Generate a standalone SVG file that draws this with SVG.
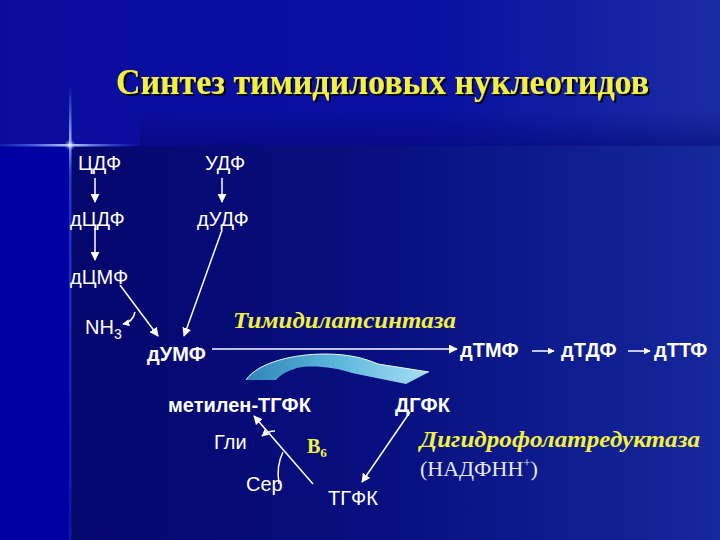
<svg xmlns="http://www.w3.org/2000/svg" width="720" height="540" viewBox="0 0 720 540">
<defs>
<linearGradient id="bgTop" x1="0" y1="0" x2="1" y2="0">
<stop offset="0" stop-color="#0a0c9c"/><stop offset="0.6" stop-color="#0a10a0"/><stop offset="1" stop-color="#1a2ca4"/>
</linearGradient>
<linearGradient id="bgLow" x1="0" y1="0" x2="1" y2="0">
<stop offset="0" stop-color="#04066c"/><stop offset="0.5" stop-color="#081080"/><stop offset="1" stop-color="#15289c"/>
</linearGradient>
<linearGradient id="bgFade" x1="0" y1="0" x2="0" y2="1">
<stop offset="0" stop-color="#04066c" stop-opacity="0"/><stop offset="1" stop-color="#04066c" stop-opacity="0.5"/>
</linearGradient>
<linearGradient id="vline" x1="0" y1="0" x2="0" y2="1">
<stop offset="0" stop-color="#6fa0ff" stop-opacity="0"/><stop offset="0.12" stop-color="#9fc0ff" stop-opacity="0.9"/><stop offset="0.2" stop-color="#3060ff" stop-opacity="0.6"/><stop offset="1" stop-color="#2040e0" stop-opacity="0.35"/>
</linearGradient>
<linearGradient id="hline" x1="0" y1="0" x2="1" y2="0">
<stop offset="0" stop-color="#3060ff" stop-opacity="0.2"/><stop offset="0.5" stop-color="#c0d8ff" stop-opacity="1"/><stop offset="1" stop-color="#3060ff" stop-opacity="0"/>
</linearGradient>
<linearGradient id="curveFill" x1="0" y1="0" x2="1" y2="0">
<stop offset="0" stop-color="#2f86b8"/><stop offset="0.5" stop-color="#5cb6dc"/><stop offset="1" stop-color="#a6e0f4"/>
</linearGradient>
<radialGradient id="star" cx="0.5" cy="0.5" r="0.5">
<stop offset="0" stop-color="#ffffff" stop-opacity="1"/><stop offset="1" stop-color="#6080ff" stop-opacity="0"/>
</radialGradient>
<filter id="shadow" x="-5%" y="-20%" width="110%" height="150%">
<feDropShadow dx="2" dy="2" stdDeviation="0.6" flood-color="#000000" flood-opacity="0.9"/>
</filter>
<marker id="ah" viewBox="0 0 10 10" refX="9" refY="5" markerWidth="9" markerHeight="9" markerUnits="userSpaceOnUse" orient="auto">
<path d="M0,0 L10,5 L0,10 Z" fill="#ffffff"/>
</marker>
<marker id="ahs" viewBox="0 0 10 10" refX="9" refY="5" markerWidth="7" markerHeight="7" markerUnits="userSpaceOnUse" orient="auto">
<path d="M0,0 L10,5 L0,10 Z" fill="#ffffff"/>
</marker>
</defs>
<style>
.n{font-family:"Liberation Sans",Arial,sans-serif;font-size:20px;fill:#ffffff}
.b{font-weight:bold}
.y{font-family:"Liberation Serif","Times New Roman",serif;fill:#f4f040;font-weight:bold}
.it{font-style:italic}
.ln{stroke:#ffffff;stroke-width:1.5;fill:none}
</style>

<!-- background -->
<rect x="0" y="0" width="720" height="540" fill="url(#bgTop)"/>
<rect x="70" y="146" width="650" height="394" fill="url(#bgLow)"/>
<rect x="0" y="146" width="70" height="394" fill="#0000a2"/>
<rect x="140" y="110" width="580" height="36" fill="url(#bgFade)"/>
<rect x="69" y="85" width="2.5" height="455" fill="url(#vline)"/>
<rect x="0" y="144" width="140" height="2.5" fill="url(#hline)"/>
<ellipse cx="70" cy="145" rx="6" ry="6" fill="url(#star)"/>

<!-- title -->
<text x="116" y="94" font-family="Liberation Serif,'Times New Roman',serif" font-size="35" font-weight="bold" fill="#f4f040" textLength="533" lengthAdjust="spacingAndGlyphs" filter="url(#shadow)">Синтез тимидиловых нуклеотидов</text>

<!-- connectors -->
<g id="connectors">
<line class="ln" x1="95" y1="178" x2="95" y2="202" marker-end="url(#ah)"/>
<line class="ln" x1="222" y1="178" x2="222" y2="202" marker-end="url(#ah)"/>
<line class="ln" x1="95" y1="228" x2="95" y2="260" marker-end="url(#ah)"/>
<line class="ln" x1="222" y1="230" x2="184" y2="336" marker-end="url(#ah)"/>
<line class="ln" x1="120" y1="285" x2="158" y2="336" marker-end="url(#ah)"/>
<path class="ln" d="M135,312 Q133,322 123,324" marker-end="url(#ahs)"/>
<line class="ln" x1="212" y1="349" x2="457" y2="349" marker-end="url(#ah)"/>
<line class="ln" x1="532" y1="351" x2="554" y2="351" marker-end="url(#ahs)"/>
<line class="ln" x1="628" y1="351" x2="650" y2="351" marker-end="url(#ahs)"/>
<line class="ln" x1="313" y1="484" x2="254" y2="416" marker-end="url(#ah)"/>
<path class="ln" d="M275,431 Q268,431 262,436" marker-end="url(#ahs)"/>
<path class="ln" d="M283,452 Q276,466 279,484"/>
<line class="ln" x1="410" y1="412" x2="362" y2="482" marker-end="url(#ah)"/>
<path d="M246,380 C258,362 295,354 325,354 C348,354 364,358 378,364 L429,372 L406,384 L352,373 C334,367 312,365 297,368 C287,371 280,375 276,380 Z" fill="url(#curveFill)"/>
<path d="M246,380 C258,362 295,354 325,354 C348,354 364,358 378,364 L429,372" fill="none" stroke="#e8f8ff" stroke-width="1"/>
</g>

<!-- nodes -->
<g id="CDP"><text class="n" x="78" y="170">ЦДФ</text></g>
<g id="UDP"><text class="n" x="205" y="170">УДФ</text></g>
<g id="dCDP"><text class="n" x="70" y="226">дЦДФ</text></g>
<g id="dUDP"><text class="n" x="197" y="226">дУДФ</text></g>
<g id="dCMP"><text class="n" x="70" y="284">дЦМФ</text></g>
<g id="NH3"><text class="n" x="85" y="334">NH<tspan font-size="14" dy="5">3</tspan></text></g>
<g id="dUMP"><text class="n b" x="147" y="361">дУМФ</text></g>
<g id="enzyme1"><text class="y it" x="233" y="328" font-size="24" textLength="223" lengthAdjust="spacingAndGlyphs">Тимидилатсинтаза</text></g>
<g id="dTMP"><text class="n b" x="460" y="357">дТМФ</text></g>
<g id="dTDP"><text class="n b" x="561" y="357">дТДФ</text></g>
<g id="dTTP"><text class="n b" x="654" y="357">дТТФ</text></g>
<g id="methyleneTHF"><text class="n b" x="168" y="412" font-size="19">метилен-ТГФК</text></g>
<g id="DHF"><text class="n b" x="395" y="412" font-size="19">ДГФК</text></g>
<g id="Gly"><text class="n" x="214" y="449" font-size="19">Гли</text></g>
<g id="B6"><text class="y" x="307" y="453" font-size="20">B<tspan font-size="13" dy="4">6</tspan></text></g>
<g id="Ser"><text class="n" x="246" y="491" font-size="19">Сер</text></g>
<g id="THF"><text class="n" x="328" y="505" font-size="19">ТГФК</text></g>
<g id="enzyme2"><text class="y it" x="420" y="447" font-size="24" textLength="280" lengthAdjust="spacingAndGlyphs">Дигидрофолатредуктаза</text>
<text x="420" y="476" font-family="Liberation Serif,'Times New Roman',serif" font-size="22" fill="#e6e8f4">(НАДФНН<tspan font-size="13" dy="-9">+</tspan><tspan dy="9">)</tspan></text></g>
</svg>
